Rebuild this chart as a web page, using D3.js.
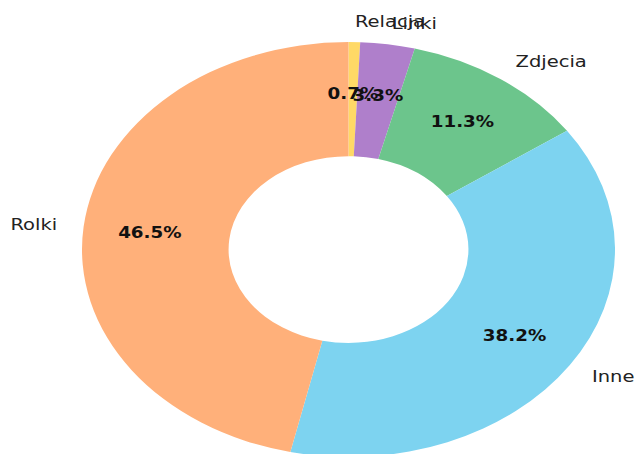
<!DOCTYPE html>
<html>
<head>
<meta charset="utf-8">
<script src="https://cdn.jsdelivr.net/npm/d3@7"></script>
<style>
  html, body { margin: 0; padding: 0; background: #fff; }
  svg { display: block; }
</style>
</head>
<body>
<svg id="chart" width="637" height="454"></svg>
<script>
// Share of post types (percent), drawn clockwise from 12 o'clock
const categories = ["Relacja", "Linki", "Zdjecia", "Inne", "Rolki"];
const shares = [0.7, 3.3, 11.3, 38.2, 46.5];
const colors = ["#FFD966", "#AF7FCB", "#6CC58C", "#7DD3F0", "#FFB07A"];

const W = 637, H = 454;
const cx = 348.5, cy = 249.5;
const rx = 266.5, ry = 207.5;          // donut is drawn on an ellipse
const holeRatio = 0.45;
const labelDist = 1.1, pctDist = 0.75;
const labelSize = 16, labelStretch = 1.22;
const pctSize = 15.5, pctStretch = 1.18;

const svg = d3.select("#chart");

const pie = d3.pie().sort(null).value(d => d.value)
  .startAngle(0).endAngle(2 * Math.PI);
const data = pie(categories.map((c, i) => ({ name: c, value: shares[i], color: colors[i] })));

const arc = d3.arc().outerRadius(ry).innerRadius(ry * holeRatio);

const g = svg.append("g")
  .attr("transform", `translate(${cx},${cy}) scale(${rx / ry},1)`);

g.selectAll("path").data(data).join("path")
  .attr("d", arc)
  .attr("fill", d => d.data.color);

// position on the ellipse at a fraction k of the radius
function pos(angle, k) {
  return [cx + k * rx * Math.sin(angle), cy - k * ry * Math.cos(angle)];
}

const fmt = d3.format(".1f");

// category labels outside the ring
svg.selectAll("text.lbl").data(data).join("text")
  .attr("class", "lbl")
  .each(function (d) {
    const a = (d.startAngle + d.endAngle) / 2;
    const [x, y] = pos(a, labelDist);
    d3.select(this)
      .attr("transform", `translate(${x},${y + 5.4}) scale(${labelStretch},1)`)
      .attr("text-anchor", Math.sin(a) >= 0 ? "start" : "end");
  })
  .attr("font-family", "DejaVu Sans, sans-serif")
  .attr("font-size", labelSize)
  .attr("fill", "#222")
  .text(d => d.data.name);

// percentage labels inside the ring
svg.selectAll("text.pct").data(data).join("text")
  .attr("class", "pct")
  .each(function (d) {
    const a = (d.startAngle + d.endAngle) / 2;
    const [x, y] = pos(a, pctDist);
    d3.select(this)
      .attr("transform", `translate(${x},${y + 5.2}) scale(${pctStretch},1)`);
  })
  .attr("text-anchor", "middle")
  .attr("font-family", "DejaVu Sans, sans-serif")
  .attr("font-weight", "bold")
  .attr("font-size", pctSize)
  .attr("fill", "#111")
  .text(d => fmt(d.data.value) + "%");
</script>
</body>
</html>
